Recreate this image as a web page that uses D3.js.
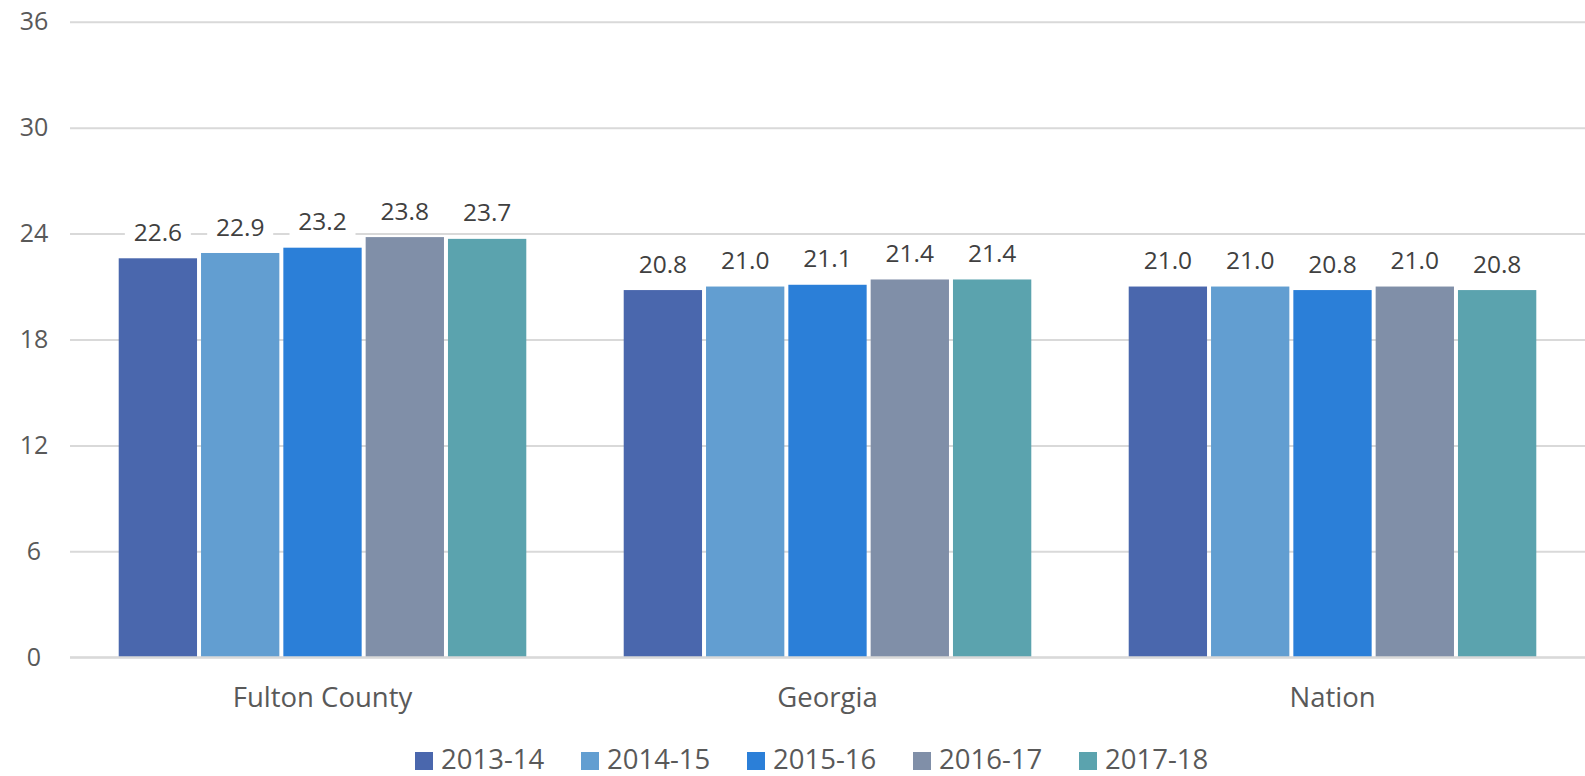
<!DOCTYPE html>
<html><head><meta charset="utf-8">
<script src="https://cdn.jsdelivr.net/npm/d3@7"></script>
<style>html,body{margin:0;padding:0;background:#fff;}svg{display:block;}</style>
</head><body>
<svg id="chart" width="1585" height="776"></svg>
<script>
const categories = ["Fulton County", "Georgia", "Nation"];
const seriesNames = ["2013-14", "2014-15", "2015-16", "2016-17", "2017-18"];
const s2013 = [22.6, 20.8, 21.0];
const s2014 = [22.9, 21.0, 21.0];
const s2015 = [23.2, 21.1, 20.8];
const s2016 = [23.8, 21.4, 21.0];
const s2017 = [23.7, 21.4, 20.8];
const yTicks = [0, 6, 12, 18, 24, 30, 36];
const colors = ["#4A67AD", "#629ED1", "#2B7FD8", "#808FA8", "#5BA3AE"];

(function () {
const seriesValues = [s2013, s2014, s2015, s2016, s2017];
const FONT = "'Open Sans', 'Noto Sans', sans-serif";
const svg = d3.select("#chart");
const mLeft = 70, mRight = 1585, mTop = 21.7, mBottom = 657.3;

const y = d3.scaleLinear().domain([0, 36]).range([mBottom, mTop]);
const x0 = d3.scaleBand().domain(categories).range([mLeft, mRight]).paddingInner(0.185).paddingOuter(0.0925);
const x1 = d3.scaleBand().domain(seriesNames).range([0, x0.bandwidth()]).padding(0);

// gridlines
const yAxis = d3.axisLeft(y).tickValues(yTicks).tickSize(-(mRight - mLeft)).tickPadding(12);
const gAxis = svg.append("g").attr("transform", `translate(${mLeft},0)`).call(yAxis);
gAxis.select(".domain").remove();
gAxis.selectAll(".tick line").attr("stroke", "#D9D9D9").attr("stroke-width", 2);
gAxis.selectAll(".tick text").attr("x", -36).attr("text-anchor", "middle")
  .attr("fill", "#595959").style("font-family", FONT).style("font-size", "25px");

// bars
const groups = svg.append("g").selectAll("g").data(categories).join("g")
  .attr("transform", c => `translate(${x0(c)},0)`);
groups.selectAll("rect").data((c, i) => seriesNames.map((s, k) => ({s, k, v: seriesValues[k][i]})))
  .join("rect")
  .attr("x", d => x1(d.s) + 2)
  .attr("width", x1.bandwidth() - 4)
  .attr("y", d => y(d.v))
  .attr("height", d => y(0) - y(d.v))
  .attr("fill", d => colors[d.k]);

// data labels with white background
const labels = groups.selectAll("g.lbl").data((c, i) => seriesNames.map((s, k) => ({s, k, v: seriesValues[k][i]})))
  .join("g").attr("class", "lbl")
  .attr("transform", d => `translate(${x1(d.s) + x1.bandwidth() / 2},${y(d.v) - 26})`);
labels.append("rect").attr("x", -33).attr("y", -16).attr("width", 66).attr("height", 32).attr("fill", "#fff");
labels.append("text").attr("text-anchor", "middle").attr("dy", "0.35em")
  .attr("fill", "#404040").style("font-family", FONT).style("font-size", "24.5px")
  .text(d => d.v.toFixed(1));

// category labels
const xAxis = d3.axisBottom(x0).tickSize(0).tickPadding(0);
const gx = svg.append("g").attr("transform", `translate(0,${mBottom})`).call(xAxis);
gx.select(".domain").remove();
gx.selectAll(".tick text").attr("y", 50).attr("dy", 0)
  .attr("fill", "#595959").style("font-family", FONT).style("font-size", "27.5px");

// baseline
svg.append("line").attr("x1", mLeft).attr("x2", mRight).attr("y1", y(0)).attr("y2", y(0))
  .attr("stroke", "#D9D9D9").attr("stroke-width", 2);

// legend
const legStart = 415, legStep = 166;
const leg = svg.append("g").selectAll("g").data(seriesNames).join("g")
  .attr("transform", (d, i) => `translate(${legStart + i * legStep},752)`);
leg.append("rect").attr("width", 18).attr("height", 18).attr("fill", (d, i) => colors[i]);
leg.append("text").attr("x", 26).attr("y", 17).attr("fill", "#595959")
  .style("font-family", FONT).style("font-size", "27.5px").text(d => d);
})();
</script>
</body></html>
